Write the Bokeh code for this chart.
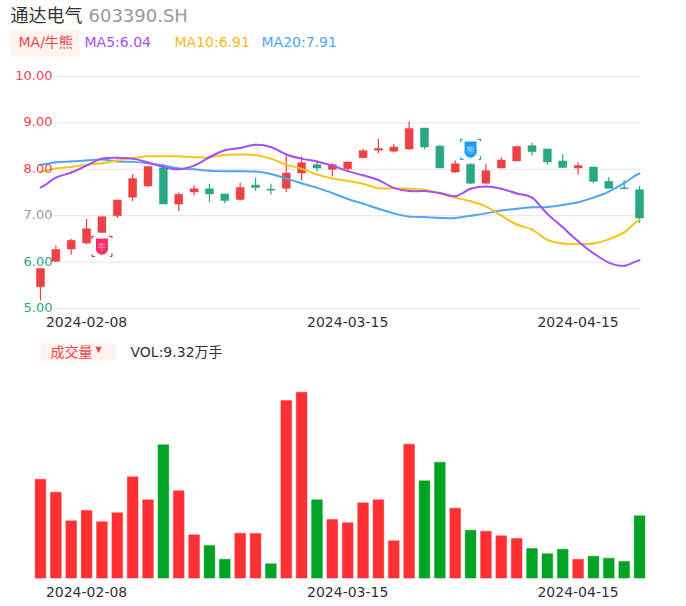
from bokeh.plotting import figure
from bokeh.layouts import column
from bokeh.models import ColumnDataSource, Label, BoxAnnotation, FixedTicker, Range1d
from bokeh.core.properties import value
from bokeh.embed import file_html
from bokeh.resources import INLINE

opens = [5.47,6.02,6.28,6.41,6.64,7.0,7.4,7.64,8.03,7.25,7.51,7.58,7.47,7.35,7.66,7.57,7.59,7.92,8.10,8.0,8.01,8.25,8.41,8.39,8.44,8.89,8.5,7.94,8.11,7.7,8.03,8.18,8.51,8.44,8.18,8.03,8.05,7.74,7.6,7.56]
closes = [5.86,6.27,6.47,6.72,6.98,7.34,7.8,8.06,7.25,7.46,7.58,7.47,7.33,7.61,7.61,7.55,7.92,8.14,8.03,8.1,8.16,8.4,8.45,8.48,8.88,8.48,8.03,8.12,7.7,7.97,8.2,8.49,8.38,8.16,8.04,8.08,7.74,7.59,7.58,6.95]
highs = [5.86,6.36,6.5,6.93,6.98,7.34,7.9,8.06,8.12,7.5,7.65,7.69,7.47,7.71,7.82,7.69,8.3,8.28,8.15,8.13,8.17,8.44,8.66,8.54,9.03,8.89,8.53,8.19,8.13,8.12,8.26,8.49,8.57,8.44,8.33,8.15,8.05,7.83,7.77,7.64]
lows = [5.17,6.0,6.16,6.38,6.64,6.95,7.31,7.62,7.25,7.1,7.44,7.3,7.27,7.33,7.54,7.46,7.51,7.76,7.95,7.85,7.97,8.24,8.35,8.37,8.42,8.43,8.03,7.92,7.69,7.69,8.03,8.18,8.3,8.1,8.02,7.89,7.7,7.59,7.58,6.84]
ma5 = [7.61,7.82,7.93,8.08,8.23,8.25,8.23,8.15,8.05,8.0,8.08,8.26,8.41,8.46,8.53,8.48,8.32,8.23,8.17,8.08,7.96,7.87,7.77,7.6,7.53,7.53,7.49,7.42,7.58,7.63,7.58,7.48,7.39,7.04,6.75,6.45,6.19,5.99,5.92,6.04]
ma10 = [7.95,8.02,8.05,8.10,8.13,8.19,8.24,8.28,8.28,8.28,8.26,8.26,8.31,8.32,8.31,8.23,8.10,8.01,7.89,7.80,7.75,7.69,7.59,7.59,7.58,7.56,7.48,7.39,7.31,7.2,7.0,6.81,6.70,6.48,6.40,6.39,6.40,6.49,6.64,6.91]
ma20 = [8.10,8.15,8.17,8.19,8.21,8.17,8.16,8.13,8.08,8.02,8.0,7.97,7.96,7.96,7.95,7.90,7.80,7.70,7.60,7.49,7.36,7.26,7.15,7.05,6.98,6.97,6.95,6.95,7.0,7.05,7.11,7.15,7.18,7.19,7.23,7.29,7.39,7.52,7.70,7.91]
volumes = [14.76,12.82,8.57,10.10,8.43,9.76,15.11,11.69,19.87,13.03,6.49,4.90,2.87,6.73,6.69,2.18,26.45,27.68,11.69,8.77,8.28,11.25,11.69,5.60,19.96,14.52,17.28,10.45,7.18,7.03,6.35,5.94,4.46,3.67,4.35,2.87,3.31,3.02,2.53,9.32]
vol_up = [1,1,1,1,1,1,1,1,0,1,1,0,0,1,1,0,1,1,0,1,1,1,1,1,1,0,0,1,0,1,1,1,0,0,0,1,0,0,0,0]
tick_idx = [3, 20, 35]
tick_txt = ["2024-02-08", "2024-03-15", "2024-04-15"]
price_ticks = [10, 9, 8, 7, 6, 5]
price_labels = ["10.00", "9.00", "8.00", "7.00", "6.00", "5.00"]
price_colors = ["#f5424b", "#f5424b", "#f5424b", "#999999", "#2aa784", "#2aa784"]
title_name = "通达电气"
title_code = "603390.SH"
MA_LABELS = ["MA5:6.04", "MA10:6.91", "MA20:7.91"]

FONT = "DejaVu Sans, Noto Sans CJK SC"
UP, DOWN = "#ec4145", "#2aa784"
W = 680
STEP = 15.36
PX = 46.4
VPX = 62.7 / 9.32
TOP_FRAME_BOTTOM = 315
BOT_FRAME_TOP = 329
BOT_FRAME_BOTTOM = 578
x_start = -40 / STEP
x_end = (W - 40) / STEP
grid_l, grid_r = (52 - 40) / STEP, (640 - 40) / STEP
xs = list(range(len(opens)))


def base(frame_h, y_range, standoff):
    f = figure(frame_width=W, frame_height=frame_h, output_backend="svg", toolbar_location=None,
               x_range=Range1d(x_start, x_end), y_range=y_range,
               min_border=0, min_border_left=0, min_border_right=0, min_border_top=0, min_border_bottom=0,
               outline_line_color=None)
    f.grid.visible = False
    f.yaxis.visible = False
    ax = f.xaxis[0]
    ax.ticker = FixedTicker(ticks=tick_idx)
    ax.major_label_overrides = dict(zip(tick_idx, tick_txt))
    ax.axis_line_color = None
    ax.major_tick_line_color = None
    ax.minor_tick_line_color = None
    ax.major_label_text_font = FONT
    ax.major_label_text_font_size = "14px"
    ax.major_label_text_color = "#333333"
    ax.major_label_standoff = standoff
    return f


def label(f, bottom, x, y, text, color, size):
    f.add_layout(Label(x=x, y=bottom - y, x_units="screen", y_units="screen", text=text, text_color=color,
                       text_font=FONT, text_font_size=size, text_baseline="middle", text_align="left"))


def tag(f, bottom, x0, x1, y0, y1):
    f.add_layout(BoxAnnotation(left=x0, right=x1, top=bottom - y0, bottom=bottom - y1,
                               left_units="screen", right_units="screen", top_units="screen", bottom_units="screen",
                               fill_color="#fff3ee", fill_alpha=1, line_color=None, level="underlay"))


def smooth(f, ys, color):
    # one cubic per pair of neighbouring closes, tangents taken from the neighbours
    n = len(ys)
    t = [(ys[min(i + 1, n - 1)] - ys[max(i - 1, 0)]) / 2 for i in range(n)]
    f.bezier(x0=xs[:-1], y0=ys[:-1], x1=xs[1:], y1=ys[1:],
             cx0=[x + 1 / 3 for x in xs[:-1]], cy0=[y + d / 3 for y, d in zip(ys[:-1], t[:-1])],
             cx1=[x - 1 / 3 for x in xs[1:]], cy1=[y - d / 3 for y, d in zip(ys[1:], t[1:])],
             line_color=color, line_width=2, line_cap="round")


p = base(TOP_FRAME_BOTTOM, Range1d(5 + (308 - TOP_FRAME_BOTTOM) / PX, 5 + 308 / PX), -5)
p.segment(x0=grid_l, x1=grid_r, y0=price_ticks, y1=price_ticks, line_color="#e1e5f1", line_width=1)

cols = [UP if c >= o else DOWN for o, c in zip(opens, closes)]
src = ColumnDataSource(dict(x=xs, o=opens, c=closes, h=highs, l=lows, col=cols,
                            top=[max(a, b) for a, b in zip(opens, closes)],
                            bot=[min(a, b) for a, b in zip(opens, closes)]))
p.segment("x", "l", "x", "h", source=src, line_color="col", line_width=1.2)
p.vbar("x", 0.52, "bot", "top", source=src, fill_color="col", line_color="col", line_width=0.5)

for series, color in ((ma20, "#52a4f5"), (ma10, "#fcc318"), (ma5, "#a64ff2")):
    smooth(p, series, color)

for tick, txt, col in zip(price_ticks, price_labels, price_colors):
    p.add_layout(Label(x=grid_l, y=tick, text=txt, text_color=col, text_font=FONT, text_font_size="13px",
                       text_align="right", text_baseline="middle", y_offset=1))

# bull and bear signal icons: corner brackets around a small shield
for xi, yv, col, pale, word in ((4, 6.34, "#fb2d6b", "#ffb3c9", "牛"), (28, 8.43, "#1a9cf8", "#9fd8fd", "熊")):
    p.scatter([xi], [yv], marker="square", size=20, fill_color=None, line_color=col, line_width=1.2,
              line_dash="5 15", line_dash_offset=3)
    p.scatter([xi], [yv + 0.04], marker="square", size=12, fill_color=col, line_color=None)
    p.scatter([xi], [yv - 0.05], marker="circle", size=12, fill_color=col, line_color=None)
    p.text([xi], [yv], text=[word], text_color=pale, text_font=value("Noto Sans CJK SC"),
           text_font_size=value("8px"), text_align="center", text_baseline="middle")

B = TOP_FRAME_BOTTOM
tag(p, B, 10, 79, 30, 56)
label(p, B, 10, 15, title_name, "#333333", "18px")
label(p, B, 88, 15, title_code, "#999999", "18px")
label(p, B, 18, 41, "MA/牛熊", "#f5424b", "14px")
label(p, B, 84, 41, MA_LABELS[0], "#a64ff2", "14px")
label(p, B, 174, 41, MA_LABELS[1], "#fcb81e", "14px")
label(p, B, 261, 41, MA_LABELS[2], "#52a4f5", "14px")

# volume
q = base(BOT_FRAME_BOTTOM - BOT_FRAME_TOP, Range1d(0, (BOT_FRAME_BOTTOM - BOT_FRAME_TOP) / VPX), 2)
vcols = ["#ff3034" if u else "#00a323" for u in vol_up]
q.vbar(xs, 0.7, 0, volumes, fill_color=vcols, line_color=vcols, line_alpha=0.45, line_width=1)
q.segment(x0=[0], x1=[39.4], y0=[0], y1=[0], line_color="#e1e5f1", line_width=1)
B = BOT_FRAME_BOTTOM
tag(q, B, 40, 115, 343, 360)
label(q, B, 50, 351, "成交量", "#f5424b", "14px")
label(q, B, 95, 349, "▼", "#f5424b", "8px")
label(q, B, 130, 351, "VOL:9.32万手", "#333333", "14px")

layout = column(p, q, spacing=0)
open("out.html", "w").write(file_html(layout, INLINE))
